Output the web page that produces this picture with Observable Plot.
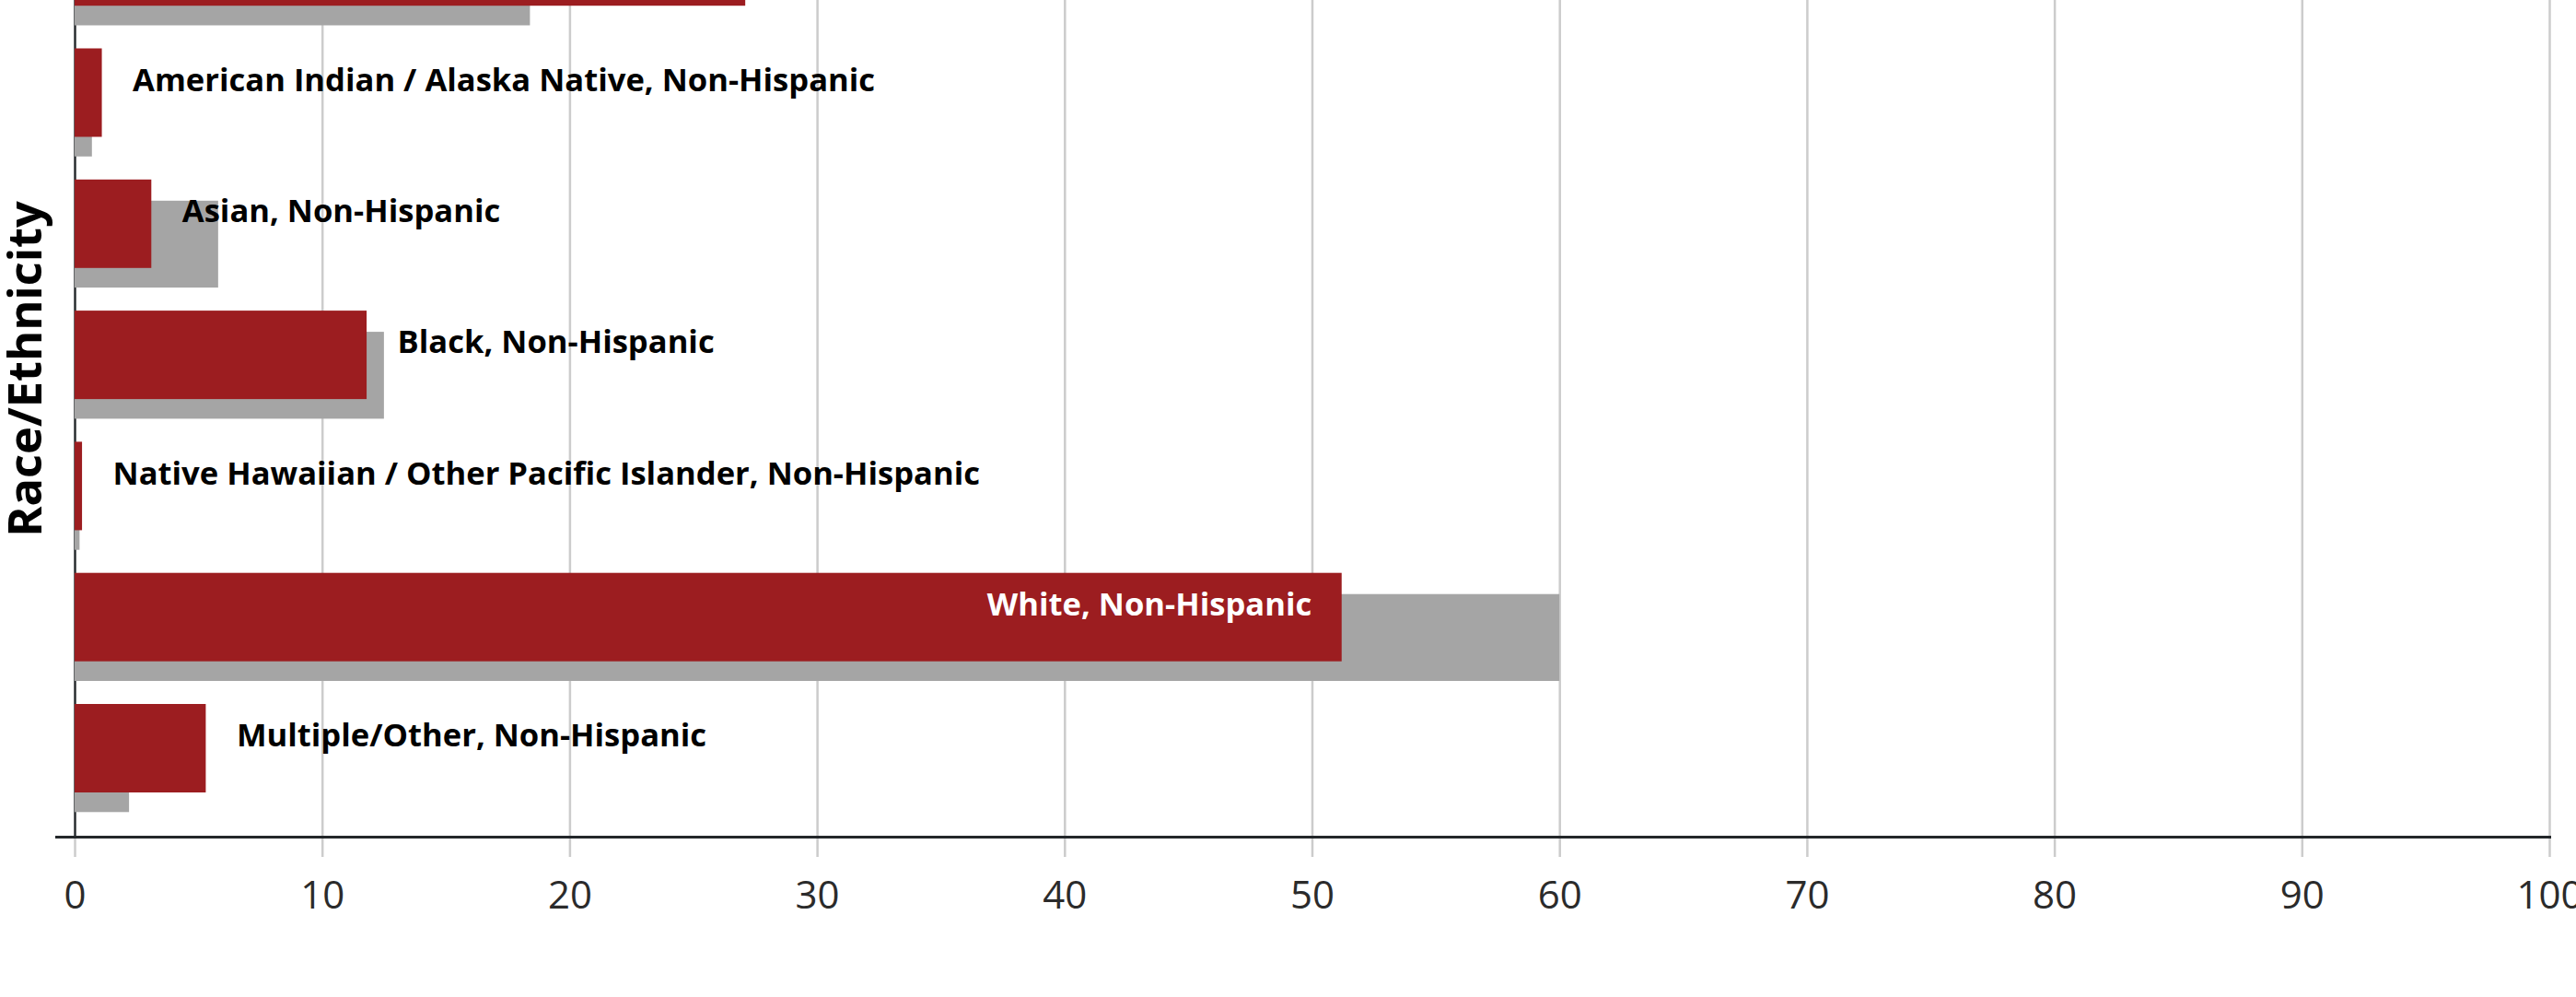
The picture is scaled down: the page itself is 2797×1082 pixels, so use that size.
<!DOCTYPE html>
<html>
<head>
<meta charset="utf-8">
<script src="https://cdn.jsdelivr.net/npm/d3@7"></script>
<script src="https://cdn.jsdelivr.net/npm/@observablehq/plot@0.6"></script>
<style>
  html, body { margin: 0; padding: 0; background: #fff; overflow: hidden; }
  #chart svg { display: block; }
</style>
</head>
<body>
<div id="chart"></div>
<script>
const categories = [
  "Hispanic",
  "American Indian / Alaska Native, Non-Hispanic",
  "Asian, Non-Hispanic",
  "Black, Non-Hispanic",
  "Native Hawaiian / Other Pacific Islander, Non-Hispanic",
  "White, Non-Hispanic",
  "Multiple/Other, Non-Hispanic"
];
const redValues = [27.1, 1.1, 3.1, 11.8, 0.3, 51.2, 5.3];
const grayValues = [18.4, 0.7, 5.8, 12.5, 0.2, 60.0, 2.2];
const labelInside = [false, false, false, false, false, true, false];
const xTicks = [0, 10, 20, 30, 40, 50, 60, 70, 80, 90, 100];
const yTitle = "Race/Ethnicity";

const data = categories.map((c, i) => ({cat: c, red: redValues[i], gray: grayValues[i], inside: labelInside[i]}));

const RED = "#9c1d20", GRAY = "#a5a5a5", GRID = "#cccccc", DARK = "#23272a";

const chart = Plot.plot({
  width: 2797,
  height: 1082,
  marginLeft: 81,
  marginRight: 29,
  marginTop: 0,
  marginBottom: 174,
  style: {fontFamily: "'Open Sans', sans-serif", background: "#fff", overflow: "hidden"},
  x: {domain: [0, 100], axis: null},
  y: {domain: categories, range: [-114.8, 881.3], padding: 0, round: false, axis: null},
  marks: [
    Plot.ruleX(xTicks, {stroke: GRID, strokeWidth: 2.5, insetBottom: -22}),
    Plot.ruleX([0], {stroke: DARK, strokeWidth: 2.3}),
    Plot.barX(data, {x: "gray", y: "cat", fill: GRAY, insetTop: 48, insetBottom: 0}),
    Plot.barX(data, {x: "red", y: "cat", fill: RED, insetTop: 25, insetBottom: 21.3}),
    Plot.text(data.filter(d => !d.inside), {
      x: "red", y: "cat", text: "cat", dx: 33, dy: -11.5,
      textAnchor: "start", lineAnchor: "middle", fill: "#000",
      fontSize: 34.6, fontWeight: 700
    }),
    Plot.text(data.filter(d => d.inside), {
      x: "red", y: "cat", text: "cat", dx: -33, dy: -11.5,
      textAnchor: "end", lineAnchor: "middle", fill: "#fff",
      fontSize: 34.6, fontWeight: 700
    }),
    Plot.frame({anchor: "bottom", stroke: DARK, strokeWidth: 3, insetLeft: -20}),
    Plot.axisX(xTicks, {tickSize: 0, tickPadding: 48, fontSize: 42, fill: "#2b2b2b", tickFormat: d => String(d)}),
    Plot.text([yTitle], {
      frameAnchor: "left", dx: -53, dy: -54, rotate: -90,
      textAnchor: "middle", lineAnchor: "middle",
      fontSize: 50.5, fontWeight: 700, fill: "#000"
    })
  ]
});
document.getElementById("chart").appendChild(chart);
</script>
</body>
</html>
